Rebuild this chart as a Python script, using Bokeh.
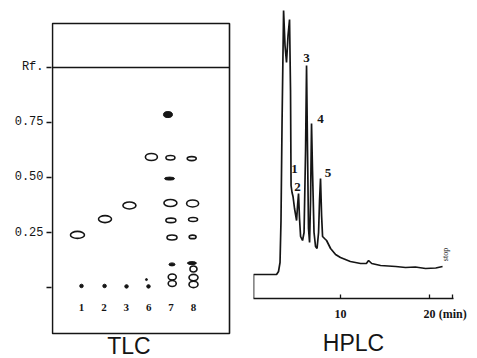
from math import pi
from bokeh.plotting import figure
from bokeh.layouts import row
from bokeh.models import Range1d, FixedTicker, ColumnDataSource
from bokeh.embed import file_html
from bokeh.resources import INLINE
from bokeh.core.properties import value

# ---------------- TLC data ----------------
lane_labels = ["1", "2", "3", "6", "7", "8"]
lane_pos = [1, 2, 3, 4, 5, 6]
origin_lane = [1, 2.03, 3.01, 3.99]
origin_rf = [0.007, 0.007, 0.005, 0.005]
extra_dot_lane = [3.9]
extra_dot_rf = [0.036]

open_lane = [0.82, 2.05, 3.14, 4.12,
             4.97, 4.97, 4.99, 5.04, 5.05, 5.05,
             5.92, 5.96, 5.98, 5.96, 6.0, 6.0, 6.0]
open_rf = [0.239, 0.311, 0.373, 0.593,
           0.590, 0.384, 0.305, 0.227, 0.048, 0.018,
           0.586, 0.382, 0.309, 0.230, 0.084, 0.045, 0.014]
open_w = [14, 13, 13, 12, 9, 13, 10, 10, 8, 8, 9, 12, 9, 7, 7, 9, 9]
open_h = [7, 7, 7, 7, 4.5, 7, 4.5, 5, 6, 6, 4, 7, 4, 3.5, 6, 6.5, 6.5]

fill_lane = [4.86, 4.93, 5.04, 5.93]
fill_rf = [0.786, 0.495, 0.105, 0.111]
fill_w = [9, 10, 6, 9]
fill_h = [6, 3, 3, 3]

plate_lane_extent = [-0.295, 7.607]
plate_rf_extent = [-0.209, 1.2]
solvent_front = 1.0

rf_ticks = [0, 0.25, 0.5, 0.75, 1.0]
rf_tick_labels = ["", "0.25", "0.50", "0.75", "Rf."]

# ---------------- HPLC data ----------------
hplc_t = [0.22, 0.22, 2.81, 3.03, 3.2, 3.31, 3.43, 3.6, 3.76, 3.93, 4.1, 4.27,
          4.38, 4.44, 4.55, 4.66, 4.83, 5.06, 5.17, 5.28, 5.39, 5.51, 5.73,
          5.9, 6.07, 6.18, 6.29, 6.4, 6.52, 6.63, 6.74, 6.85, 7.02, 7.19, 7.36,
          7.53, 7.64, 7.75, 7.87, 7.98, 8.2, 8.43, 8.88, 9.44, 9.99, 11.1,
          12.25, 12.9, 13.15, 13.5, 14.5, 16.2, 17.3, 18.4, 19.55, 20.7, 21.46]
hplc_r = [0, 24, 24, 27, 36, 78, 178, 288, 253, 236, 263, 279,
          208, 113, 106, 102, 90, 78, 93, 105, 80, 62, 58,
          66, 148, 233, 148, 70, 56, 98, 175, 128, 66, 52, 50,
          66, 98, 120, 83, 62, 60, 58, 50, 44, 41, 37,
          35, 35, 38, 35, 33, 32, 31, 31.5, 30, 30.5, 32]
peak_labels = ["1", "2", "3", "4", "5"]
peak_label_t = [4.83, 5.17, 6.18, 7.75, 8.6]
peak_label_r = [130, 112, 241, 180, 125.5]
time_ticks = [10, 20, 22.6]
time_tick_labels = ["10", "20", "(min)"]
stop_t = [21.8]
stop_r = [44]

INK = "#151515"

# ---------------- TLC figure ----------------
p1 = figure(width=245, height=358, output_backend="svg", toolbar_location=None,
            x_range=Range1d(-0.339, 8.321), y_range=Range1d(-0.3227, 1.3045),
            x_axis_location=None, min_border_left=51, min_border_right=0,
            min_border_top=0, min_border_bottom=0, frame_align=False)
p1.grid.visible = False
p1.outline_line_color = None
ax = p1.yaxis[0]
ax.ticker = FixedTicker(ticks=rf_ticks)
ax.major_label_overrides = {t: l for t, l in zip(rf_ticks, rf_tick_labels)}
ax.axis_line_color = None
ax.major_tick_out = 5
ax.major_tick_in = 0
ax.major_tick_line_color = INK
ax.major_tick_line_width = 1.3
ax.minor_tick_line_color = None
ax.major_label_standoff = 3
ax.major_label_text_font = "Liberation Mono"
ax.major_label_text_font_size = "12px"
ax.major_label_text_color = INK

# plate outline and solvent front
p1.quad(left=[plate_lane_extent[0]], right=[plate_lane_extent[1]],
        bottom=[plate_rf_extent[0]], top=[plate_rf_extent[1]],
        fill_color=None, line_color=INK, line_width=1.6)
p1.segment(x0=[plate_lane_extent[0]], x1=[plate_lane_extent[1]],
           y0=[solvent_front], y1=[solvent_front], line_color=INK, line_width=1.4)

src_open = ColumnDataSource(dict(x=open_lane, y=open_rf, w=open_w, h=open_h))
p1.ellipse(x="x", y="y", width="w", height="h", width_units="screen",
           height_units="screen", source=src_open, fill_color=None,
           line_color=INK, line_width=1.6)
src_fill = ColumnDataSource(dict(x=fill_lane, y=fill_rf, w=fill_w, h=fill_h))
p1.ellipse(x="x", y="y", width="w", height="h", width_units="screen",
           height_units="screen", source=src_fill, fill_color=INK,
           line_color=INK, line_width=1)
p1.scatter(origin_lane, origin_rf, size=3.5, color=INK)
p1.scatter(extra_dot_lane, extra_dot_rf, size=2, color=INK)
p1.text(x=lane_pos, y=[-0.089] * len(lane_pos), text=lane_labels,
        text_align="center", text_baseline="middle",
        text_font=value("Liberation Serif"), text_font_style="bold",
        text_font_size="11px", text_color=INK)
p1.text(x=[3.12], y=[-0.268], text=["TLC"], text_align="center",
        text_baseline="middle", text_font=value("Liberation Sans"),
        text_font_size="23px", text_color=INK)

# ---------------- HPLC figure ----------------
p2 = figure(width=232, height=358, output_backend="svg", toolbar_location=None,
            x_range=Range1d(0.22, 22.69), y_range=Range1d(0, 298),
            y_axis_location=None, min_border_left=8, min_border_right=24,
            min_border_top=0, min_border_bottom=60, frame_align=False)
p2.grid.visible = False
p2.outline_line_color = None
bx = p2.xaxis[0]
bx.ticker = FixedTicker(ticks=time_ticks)
bx.major_label_overrides = {t: l for t, l in zip(time_ticks, time_tick_labels)}
bx.axis_line_color = INK
bx.axis_line_width = 1.6
bx.major_tick_in = 4
bx.major_tick_out = 0
bx.major_tick_line_color = INK
bx.major_tick_line_width = 1.3
bx.minor_tick_line_color = None
bx.major_label_standoff = 8
bx.major_label_text_font = "Liberation Serif"
bx.major_label_text_font_style = "bold"
bx.major_label_text_font_size = "12px"
bx.major_label_text_color = INK
bx.axis_label = "HPLC"
bx.axis_label_standoff = 6
bx.axis_label_text_line_height = 1.0
bx.axis_label_text_font = "Liberation Sans"
bx.axis_label_text_font_style = "normal"
bx.axis_label_text_font_size = "23px"
bx.axis_label_text_color = INK

p2.line(hplc_t, hplc_r, line_color=INK, line_width=1.7)
p2.text(x=peak_label_t, y=peak_label_r, text=peak_labels, text_align="center",
        text_baseline="middle", text_font=value("Liberation Serif"),
        text_font_style="bold", text_font_size="13px", text_color=INK)
p2.text(x=stop_t, y=stop_r, text=["stop"], angle=pi / 2,
        text_align="center", text_baseline="middle",
        text_font=value("Liberation Serif"), text_font_size="8px",
        text_color=INK)

layout = row(p1, p2, spacing=0)
open("out.html", "w").write(file_html(layout, INLINE))
